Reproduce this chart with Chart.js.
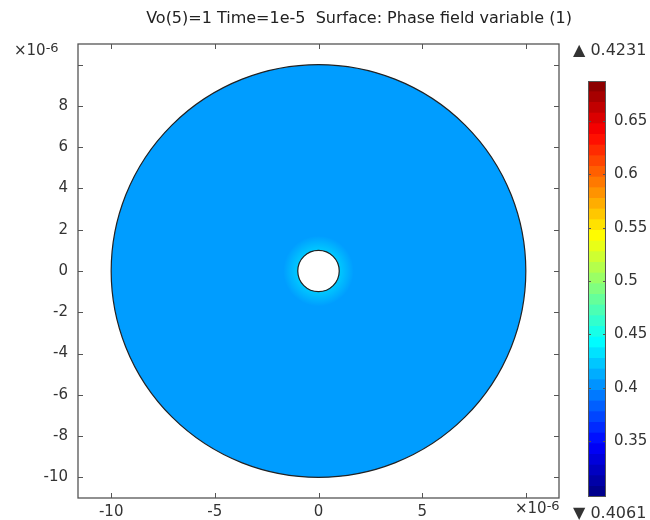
<!DOCTYPE html>
<html>
<head>
<meta charset="utf-8">
<script src="https://cdn.jsdelivr.net/npm/chart.js@4.4.0/dist/chart.umd.min.js"></script>
<style>
  body { margin: 0; background: #fff; }
  #wrap { position: relative; width: 650px; height: 520px; font-family: "DejaVu Sans", sans-serif; color: #333; }
  #plot { position: absolute; left: 0; top: 0; }
  #bar { position: absolute; left: 560px; top: 30px; }
  .lbl { position: absolute; white-space: nowrap; line-height: 1; font-size: 15px; }
  .lbl sup { font-size: 13px; position: relative; top: -2px; vertical-align: top; }
</style>
</head>
<body>
<div id="wrap">
  <canvas id="plot" width="650" height="520"></canvas>
  <canvas id="bar" width="90" height="490"></canvas>
  <div class="lbl" id="title" style="left:359px; top:10px; font-size:16px; transform:translateX(-50%); color:#222;">Vo(5)=1 Time=1e-5&nbsp; Surface: Phase field variable (1)</div>
  <div class="lbl" style="left:14px; top:43px;">×10<sup>-6</sup></div>
  <div class="lbl" style="left:515px; top:501px;">×10<sup>-6</sup></div>
  <div class="lbl" style="left:573px; top:42px; font-size:16px;">▲ 0.4231</div>
  <div class="lbl" style="left:573px; top:505px; font-size:16px;">▼ 0.4061</div>
</div>
<script>
// axes (units of 1e-6)
const xRange = [-11.6, 11.6];
const yRange = [-11, 11];
const xTicks = [-10, -5, 0, 5, 10];
const yTicks = [-10, -8, -6, -4, -2, 0, 2, 4, 6, 8, 10];

// geometry of the domain
const innerRadius = 1;
const outerRadius = 10;

// field values
const surfaceValue = 0.4061;
const peakValue = 0.4231;

// colour legend
const colorRange = [0.2975, 0.6875];
const colorTicks = [0.35, 0.4, 0.45, 0.5, 0.55, 0.6, 0.65];
const colorBands = 39;

const fontFamily = '"DejaVu Sans", sans-serif';

// jet style colour table
const jet = (v) => {
  const t = (v - colorRange[0]) / (colorRange[1] - colorRange[0]);
  const c = k => Math.round(255 * Math.max(0, Math.min(1, 1.5 - Math.abs(4 * t - k))));
  return [c(3), c(2), c(1)];
};
const rgb = (a, alpha = 1) => `rgba(${a[0]},${a[1]},${a[2]},${alpha})`;

const surfacePlugin = {
  id: 'surface',
  beforeDatasetsDraw(chart) {
    const { ctx, scales: { x, y } } = chart;
    const cx = x.getPixelForValue(0);
    const cy = y.getPixelForValue(0);
    const rox = x.getPixelForValue(outerRadius) - cx;
    const roy = cy - y.getPixelForValue(outerRadius);
    const rix = x.getPixelForValue(innerRadius) - cx;
    const riy = cy - y.getPixelForValue(innerRadius);

    ctx.save();
    ctx.beginPath();
    ctx.ellipse(cx, cy, rox, roy, 0, 0, 2 * Math.PI);
    ctx.moveTo(cx + rix, cy);
    ctx.ellipse(cx, cy, rix, riy, 0, 0, 2 * Math.PI);
    ctx.fillStyle = rgb(jet(surfaceValue));
    ctx.fill('evenodd');

    // lighter ring around the hole
    const g = ctx.createRadialGradient(cx, cy, rix, cx, cy, rix * 1.7);
    g.addColorStop(0, rgb(jet(peakValue)));
    g.addColorStop(1, rgb(jet(peakValue), 0));
    ctx.beginPath();
    ctx.ellipse(cx, cy, rix * 1.7, riy * 1.7, 0, 0, 2 * Math.PI);
    ctx.moveTo(cx + rix, cy);
    ctx.ellipse(cx, cy, rix, riy, 0, 0, 2 * Math.PI);
    ctx.fillStyle = g;
    ctx.fill('evenodd');

    ctx.strokeStyle = '#222';
    ctx.lineWidth = 1.2;
    ctx.beginPath();
    ctx.ellipse(cx, cy, rox, roy, 0, 0, 2 * Math.PI);
    ctx.stroke();
    ctx.beginPath();
    ctx.ellipse(cx, cy, rix, riy, 0, 0, 2 * Math.PI);
    ctx.stroke();
    ctx.restore();
  }
};

// box round the plot with inward ticks on every side
const framePlugin = {
  id: 'frame',
  afterDraw(chart) {
    const { ctx, chartArea: a, scales: { x, y } } = chart;
    const line = (x1, y1, x2, y2) => { ctx.beginPath(); ctx.moveTo(x1, y1); ctx.lineTo(x2, y2); ctx.stroke(); };
    ctx.save();
    ctx.strokeStyle = '#555';
    ctx.lineWidth = 1.3;
    ctx.strokeRect(a.left, a.top, a.right - a.left, a.bottom - a.top);
    ctx.lineWidth = 1;
    x.ticks.forEach(t => {
      const p = Math.round(x.getPixelForValue(t.value)) + 0.5;
      line(p, a.bottom, p, a.bottom - 5);
      line(p, a.top, p, a.top + 5);
    });
    y.ticks.forEach(t => {
      const p = Math.round(y.getPixelForValue(t.value)) + 0.5;
      line(a.left, p, a.left + 5, p);
      line(a.right, p, a.right - 5, p);
    });
    ctx.restore();
  }
};

new Chart(document.getElementById('plot'), {
  type: 'scatter',
  data: { datasets: [] },
  options: {
    responsive: false,
    animation: false,
    layout: { padding: { top: 44, right: 91, left: 0, bottom: 0 } },
    plugins: { legend: { display: false }, tooltip: { enabled: false } },
    scales: {
      x: {
        type: 'linear', min: xRange[0], max: xRange[1],
        afterBuildTicks: s => { s.ticks = xTicks.map(v => ({ value: v })); },
        afterFit: s => { s.height = 22; },
        grid: { display: false, drawTicks: false }, border: { display: false },
        ticks: { padding: 5, color: '#333', maxRotation: 0, autoSkip: false,
          font: { family: fontFamily, size: 15 },
          callback: v => (v === 10 ? '' : String(v)) }
      },
      y: {
        type: 'linear', min: yRange[0], max: yRange[1],
        afterBuildTicks: s => { s.ticks = yTicks.map(v => ({ value: v })); },
        afterFit: s => { s.width = 78; },
        grid: { display: false, drawTicks: false }, border: { display: false },
        ticks: { padding: 10, color: '#333', autoSkip: false,
          font: { family: fontFamily, size: 15 },
          callback: v => (v === 10 ? '' : String(v)) }
      }
    }
  },
  plugins: [surfacePlugin, framePlugin]
});

// colour bar
const step = (colorRange[1] - colorRange[0]) / colorBands;
const bandSets = [];
for (let i = 0; i < colorBands; i++) {
  const lo = colorRange[0] + i * step;
  bandSets.push({
    data: [[lo, lo + step]],
    backgroundColor: rgb(jet(lo + step / 2)),
    borderWidth: 0,
    barPercentage: 1,
    categoryPercentage: 1,
    grouped: false
  });
}

const barFramePlugin = {
  id: 'barFrame',
  afterDraw(chart) {
    const { ctx, chartArea: a, scales: { y } } = chart;
    ctx.save();
    ctx.strokeStyle = '#555';
    ctx.lineWidth = 1;
    ctx.strokeRect(a.left + 0.5, a.top + 0.5, a.right - a.left - 1, a.bottom - a.top - 1);
    y.ticks.forEach(t => {
      const p = Math.round(y.getPixelForValue(t.value)) + 0.5;
      ctx.beginPath();
      ctx.moveTo(a.left, p); ctx.lineTo(a.left + 3, p);
      ctx.moveTo(a.right, p); ctx.lineTo(a.right - 3, p);
      ctx.stroke();
    });
    ctx.restore();
  }
};

new Chart(document.getElementById('bar'), {
  type: 'bar',
  data: { labels: [''], datasets: bandSets },
  options: {
    responsive: false,
    animation: false,
    layout: { padding: { left: 28, top: 51, bottom: 23, right: 0 } },
    plugins: { legend: { display: false }, tooltip: { enabled: false } },
    scales: {
      x: { display: false },
      y: {
        position: 'right', min: colorRange[0], max: colorRange[1],
        afterBuildTicks: s => { s.ticks = colorTicks.map(v => ({ value: v })); },
        afterFit: s => { s.width = 44; },
        grid: { display: false, drawTicks: false }, border: { display: false },
        ticks: { padding: 8, color: '#333', autoSkip: false,
          font: { family: fontFamily, size: 15 },
          callback: v => String(v) }
      }
    }
  },
  plugins: [barFramePlugin]
});
</script>
</body>
</html>
